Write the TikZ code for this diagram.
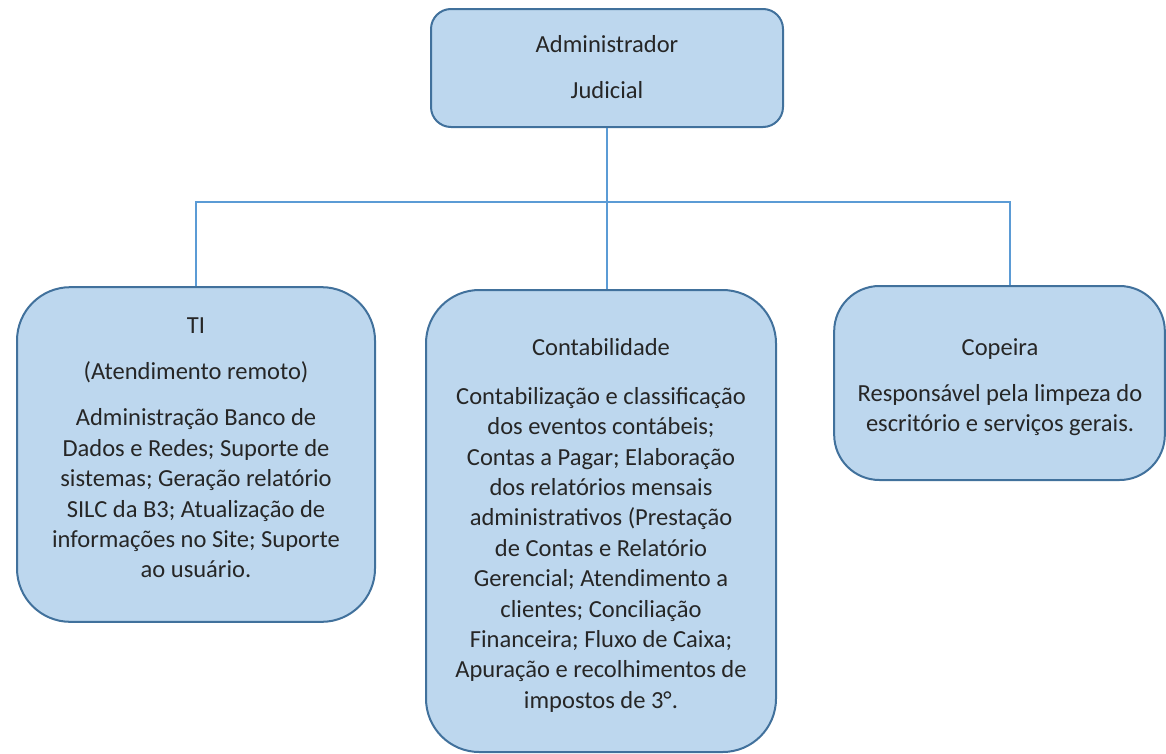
\documentclass[tikz,border=0pt]{standalone}
\usepackage{fontspec}
\setmainfont{Carlito}
\usetikzlibrary{calc}
\definecolor{boxfill}{HTML}{BDD7EE}
\definecolor{boxdraw}{HTML}{41719C}
\definecolor{linkcol}{HTML}{5B9BD5}
\definecolor{txt}{HTML}{262626}
\tikzset{
  orgbox/.style={draw=boxdraw, fill=boxfill, line width=1.5pt, inner sep=0pt},
  orgtext/.style={text=txt, align=center, inner sep=0pt, anchor=north,
    font=\fontsize{18.4pt}{22.8pt}\selectfont},
  link/.style={draw=linkcol, line width=1.6pt}
}
\newcommand{\pgap}{\\[12pt]}
\begin{document}
\begin{tikzpicture}[x=0.75pt,y=-0.75pt]
\useasboundingbox[fill=white] (0,0) rectangle (1166,753);
% boxes
\node[orgbox, rounded corners=15pt, minimum width=264pt, minimum height=88.5pt] (admin) at (607,68) {};
\node[orgbox, rounded corners=40pt, minimum width=268.5pt, minimum height=251pt] (ti) at (196,454.5) {};
\node[orgbox, rounded corners=40pt, minimum width=262.5pt, minimum height=346.5pt] (cont) at (601,521) {};
\node[orgbox, rounded corners=34pt, minimum width=248pt, minimum height=145.5pt] (cop) at (999.5,383) {};
% texts
\node[orgtext] (admint) at (607,35) {Administrador\pgap Judicial};
\node[orgtext] (tit) at (196,317) {TI\pgap (Atendimento remoto)\pgap Administração Banco de\\ Dados e Redes; Suporte de\\ sistemas; Geração relatório\\ SILC da B3; Atualização de\\ informações no Site; Suporte\\ ao usuário.};
\node[orgtext] (contt) at (601,338) {Contabilidade\\[14pt] Contabilização e classificação\\ dos eventos contábeis;\\ Contas a Pagar; Elaboração\\ dos relatórios mensais\\ administrativos (Prestação\\ de Contas e Relatório\\ Gerencial; Atendimento a\\ clientes; Conciliação\\ Financeira; Fluxo de Caixa;\\ Apuração e recolhimentos de\\ impostos de 3°.};
\node[orgtext] (copt) at (1000,338) {Copeira\pgap Responsável pela limpeza do\\ escritório e serviços gerais.};
% connectors
\coordinate (bus) at (607,202);
\coordinate (copin) at ($(cop.north)+(10.5,0)$);
\draw[link] (admin.south) -- (admin.south |- cont.north);
\draw[link] (ti.north) -- (ti.north |- bus) -- (copin |- bus) -- (copin);
\end{tikzpicture}
\end{document}
